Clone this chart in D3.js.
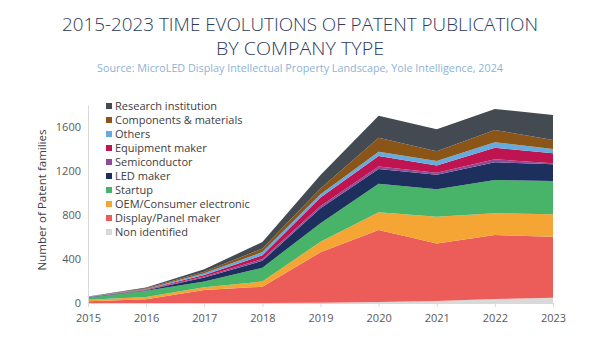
<!DOCTYPE html>
<html>
<head>
<meta charset="utf-8">
<script src="https://cdn.jsdelivr.net/npm/d3@7"></script>
<style>
  html, body { margin: 0; padding: 0; background: #fff; }
  svg { display: block; font-family: "Open Sans", "Noto Sans", sans-serif; }
</style>
</head>
<body>
<svg id="chart" width="600" height="338"></svg>
<script>
// Patent families published per year, by company type
const years = [2015, 2016, 2017, 2018, 2019, 2020, 2021, 2022, 2023];
const seriesNames = [
  "Non identified", "Display/Panel maker", "OEM/Consumer electronic", "Startup",
  "LED maker", "Semiconductor", "Equipment maker", "Others",
  "Components & materials", "Research institution"
];
const nonIdentified   = [0, 0, 0, 0, 3, 8, 18, 36, 48];
const displayPanel    = [15, 34, 118, 148, 458, 656, 522, 582, 555];
const oemConsumer     = [15, 21, 25, 47, 96, 162, 245, 197, 203];
const startup         = [18, 57, 52, 126, 167, 259, 250, 303, 303];
const ledMaker        = [5, 5, 37, 62, 137, 133, 132, 161, 152];
const semiconductor   = [1, 3, 8, 17, 21, 22, 18, 27, 9];
const equipmentMaker  = [1, 4, 15, 33, 76, 96, 66, 106, 91];
const others          = [1, 4, 15, 30, 30, 38, 39, 49, 39];
const components      = [1, 5, 15, 32, 54, 129, 89, 112, 82];
const research        = [3, 7, 21, 60, 122, 200, 201, 191, 227];
const yTicks = [0, 400, 800, 1200, 1600];

const seriesValues = [nonIdentified, displayPanel, oemConsumer, startup, ledMaker,
  semiconductor, equipmentMaker, others, components, research];
const colors = ["#d9d9d9", "#ec5d5a", "#f4a534", "#48b46a", "#1c2f5d",
  "#8e4c98", "#be1450", "#66abde", "#8c5518", "#434a52"];

const rows = years.map((yr, i) => {
  const r = { year: yr };
  seriesNames.forEach((n, k) => { r[n] = seriesValues[k][i]; });
  return r;
});

const svg = d3.select("#chart");
const x = d3.scaleLinear().domain([2015, 2023]).range([88, 553]);
const y = d3.scaleLinear().domain([0, 1800]).range([303, 105]);

const stacked = d3.stack().keys(seriesNames)(rows);
const area = d3.area()
  .x(d => x(d.data.year))
  .y0(d => y(d[0]))
  .y1(d => y(d[1]));

svg.append("g").selectAll("path")
  .data(stacked)
  .join("path")
  .attr("d", area)
  .attr("fill", (d, i) => colors[i]);

// Titles
svg.append("text").attr("x", 300).attr("y", 31).attr("text-anchor", "middle")
  .attr("font-size", 19).attr("font-weight", 300).attr("fill", "#2b3a5c")
  .attr("textLength", 476).attr("lengthAdjust", "spacingAndGlyphs")
  .text("2015-2023 TIME EVOLUTIONS OF PATENT PUBLICATION");
svg.append("text").attr("x", 300).attr("y", 55).attr("text-anchor", "middle")
  .attr("font-size", 19).attr("font-weight", 300).attr("fill", "#2b3a5c")
  .attr("textLength", 168).attr("lengthAdjust", "spacingAndGlyphs")
  .text("BY COMPANY TYPE");
svg.append("text").attr("x", 300).attr("y", 72).attr("text-anchor", "middle")
  .attr("font-size", 11).attr("fill", "#8db3d6")
  .attr("textLength", 406).attr("lengthAdjust", "spacingAndGlyphs")
  .text("Source: MicroLED Display Intellectual Property Landscape, Yole Intelligence, 2024");

// Y axis
const yAxis = svg.append("g").attr("transform", "translate(88,0)")
  .call(d3.axisLeft(y).tickValues(yTicks).tickFormat(d3.format("d")).tickSize(0).tickPadding(7));
yAxis.select(".domain").attr("stroke", "#d9d9d9");
yAxis.selectAll("text").attr("font-size", 11).attr("fill", "#595959")
  .attr("font-family", "'Open Sans', sans-serif");

svg.append("text")
  .attr("transform", "translate(46,200) rotate(-90)")
  .attr("text-anchor", "middle").attr("font-size", 11.5).attr("fill", "#404040")
  .text("Number of Patent families");

// X axis
const xAxis = svg.append("g").attr("transform", "translate(0,303)")
  .call(d3.axisBottom(x).tickValues(years).tickFormat(d3.format("d")).tickSize(4).tickSizeOuter(0).tickPadding(7));
xAxis.select(".domain").attr("stroke", "#d9d9d9");
xAxis.selectAll(".tick line").attr("stroke", "#d9d9d9");
xAxis.selectAll("text").attr("font-size", 11).attr("fill", "#595959")
  .attr("font-family", "'Open Sans', sans-serif");

// Legend (top entry is the top layer)
const legendItems = seriesNames.map((n, i) => ({ name: n, color: colors[i] })).reverse();
const legend = svg.append("g").attr("transform", "translate(106,106)");
const item = legend.selectAll("g").data(legendItems).join("g")
  .attr("transform", (d, i) => `translate(0,${i * 14})`);
item.append("rect").attr("x", 0).attr("y", -3).attr("width", 6).attr("height", 6)
  .attr("fill", d => d.color);
item.append("text").attr("x", 9).attr("y", 4).attr("font-size", 11)
  .attr("fill", "#404040").text(d => d.name);
</script>
</body>
</html>
